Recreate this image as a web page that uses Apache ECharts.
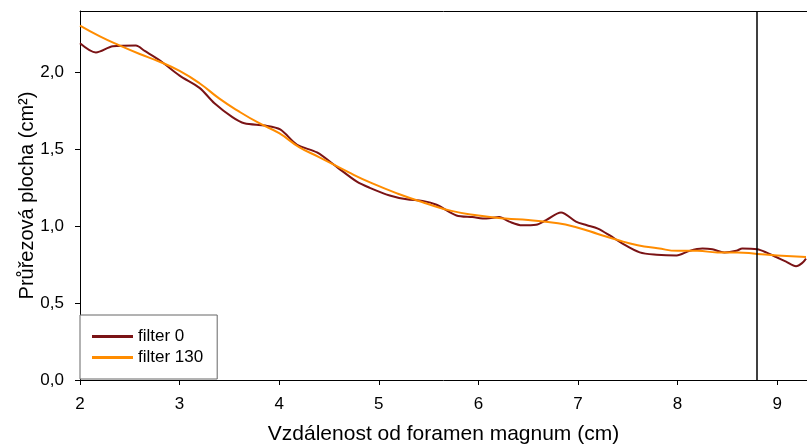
<!DOCTYPE html>
<html>
<head>
<meta charset="utf-8">
<script src="https://cdn.jsdelivr.net/npm/echarts@6/dist/echarts.min.js"></script>
<style>
  html, body { margin: 0; padding: 0; background: #fff; }
  #chart { width: 807px; height: 444px; }
</style>
</head>
<body>
<div id="chart"></div>
<script>
// data (x in cm, y in cm2)
var seriesNames = ['filter 0', 'filter 130']
var filter0X = [2.00, 2.16, 2.33, 2.56, 2.65, 2.80, 3.00, 3.20, 3.35, 3.53, 3.65, 3.86, 4.01, 4.18, 4.38, 4.59, 4.78, 4.91, 5.11, 5.28, 5.44, 5.58, 5.78, 5.94, 6.08, 6.21, 6.31, 6.44, 6.58, 6.68, 6.83, 6.98, 7.09, 7.20, 7.32, 7.44, 7.62, 7.79, 7.99, 8.12, 8.25, 8.35, 8.47, 8.59, 8.65, 8.80, 8.89, 8.99, 9.09, 9.19, 9.25, 9.29]
var filter0Y = [2.19, 2.13, 2.17, 2.175, 2.14, 2.08, 1.98, 1.90, 1.80, 1.71, 1.67, 1.655, 1.63, 1.53, 1.48, 1.38, 1.29, 1.25, 1.20, 1.175, 1.165, 1.14, 1.07, 1.06, 1.05, 1.06, 1.03, 1.006, 1.01, 1.04, 1.09, 1.03, 1.007, 0.985, 0.94, 0.89, 0.83, 0.815, 0.81, 0.84, 0.855, 0.85, 0.83, 0.84, 0.855, 0.85, 0.83, 0.80, 0.77, 0.74, 0.76, 0.79]
var filter130X = [2.0, 2.2, 2.4, 2.6, 2.8, 3.0, 3.2, 3.4, 3.6, 3.8, 4.0, 4.2, 4.4, 4.7, 4.93, 5.2, 5.47, 5.73, 6.0, 6.27, 6.5, 6.8, 7.0, 7.2, 7.4, 7.6, 7.8, 8.0, 8.2, 8.4, 8.6, 8.8, 9.0, 9.29]
var filter130Y = [2.305, 2.235, 2.175, 2.12, 2.07, 2.01, 1.93, 1.83, 1.745, 1.67, 1.605, 1.515, 1.45, 1.35, 1.28, 1.21, 1.15, 1.10, 1.07, 1.05, 1.04, 1.02, 0.99, 0.95, 0.91, 0.877, 0.857, 0.84, 0.84, 0.83, 0.83, 0.82, 0.81, 0.80]
var markX = 8.8

function pairs(xs, ys) {
  return xs.map(function (x, i) { return [x, ys[i]] })
}

var font = 'Liberation Sans, Arial, sans-serif'
var myChart = echarts.init(document.getElementById('chart'))
var option = {
  backgroundColor: '#ffffff',
  animation: false,
  color: ['#7a1315', '#ff8c00'],
  grid: { left: 80, top: 11, right: 0, bottom: 64, outerBoundsMode: 'none', containLabel: false },
  legend: {
    data: seriesNames,
    orient: 'vertical',
    left: 80,
    top: 315,
    padding: [13, 14, 13, 12],
    itemGap: 4,
    itemWidth: 41,
    itemHeight: 3,
    icon: 'rect',
    borderColor: '#666',
    borderWidth: 1,
    backgroundColor: '#fff',
    textStyle: { fontFamily: font, fontSize: 17, color: '#000' }
  },
  xAxis: [
    {
      type: 'value',
      min: 2,
      max: 9.3,
      interval: 1,
      name: 'Vzdálenost od foramen magnum (cm)',
      nameLocation: 'middle',
      nameGap: 44,
      nameMoveOverlap: false,
      nameTextStyle: { fontFamily: font, fontSize: 21, color: '#000' },
      splitLine: { show: false },
      axisLine: { lineStyle: { color: '#000', width: 1 } },
      axisTick: { inside: false, length: 5, lineStyle: { color: '#000' } },
      axisLabel: { fontFamily: font, fontSize: 17, color: '#000', margin: 16, showMaxLabel: false }
    },
    {
      type: 'value',
      position: 'top',
      min: 2,
      max: 9.3,
      axisLine: { show: true, lineStyle: { color: '#000', width: 1 } },
      axisTick: { show: false },
      axisLabel: { show: false },
      splitLine: { show: false }
    }
  ],
  yAxis: {
    type: 'value',
    min: 0,
    max: 2.4,
    interval: 0.5,
    name: 'Průřezová plocha (cm²)',
    nameLocation: 'middle',
    nameGap: 43,
    nameMoveOverlap: false,
    nameTextStyle: { fontFamily: font, fontSize: 20, color: '#000' },
    splitLine: { show: false },
    axisLine: { show: true, lineStyle: { color: '#000', width: 1 } },
    axisTick: { show: true, length: 5, lineStyle: { color: '#000' } },
    axisLabel: {
      fontFamily: font,
      fontSize: 17,
      color: '#000',
      margin: 16,
      showMaxLabel: false,
      formatter: function (v) { return v.toFixed(1).replace('.', ',') }
    }
  },
  series: [
    {
      name: seriesNames[0],
      type: 'line',
      data: pairs(filter0X, filter0Y),
      showSymbol: false,
      smooth: 0.3,
      lineStyle: { width: 2 },
      markLine: {
        silent: true,
        symbol: 'none',
        label: { show: false },
        lineStyle: { color: '#000', width: 1.5, type: 'solid' },
        data: [{ xAxis: markX }]
      }
    },
    {
      name: seriesNames[1],
      type: 'line',
      data: pairs(filter130X, filter130Y),
      showSymbol: false,
      smooth: true,
      lineStyle: { width: 2 }
    }
  ]
}
myChart.setOption(option, true)
</script>
</body>
</html>
